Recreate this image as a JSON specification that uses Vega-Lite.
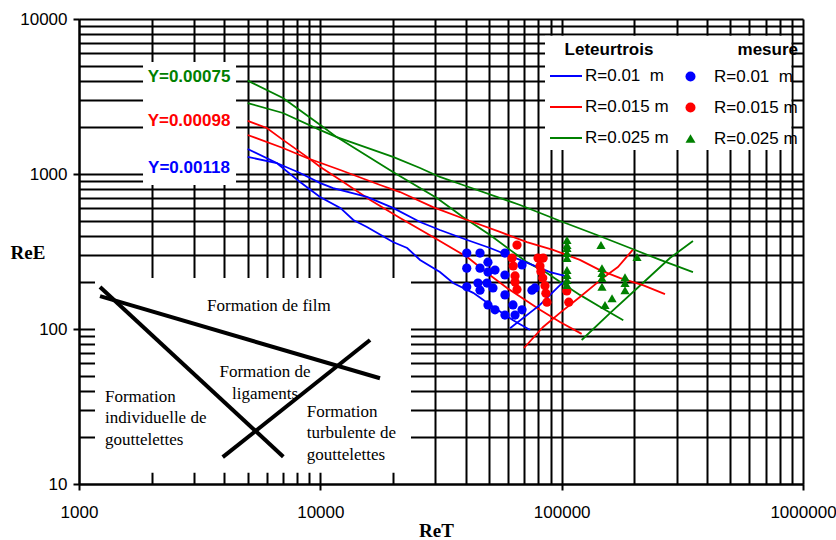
{
  "$schema": "https://vega.github.io/schema/vega-lite/v6.json",
  "width": 724,
  "height": 465,
  "autosize": {"type": "none"},
  "padding": {"left": 79, "top": 19, "right": 33, "bottom": 56},
  "background": "white",
  "config": {"view": {"stroke": null}, "font": "Liberation Sans"},
  "datasets": {
    "boxes": [
      {"x": 1165, "x2": 23750, "y": 213, "y2": 11.8},
      {"x": 1842, "x2": 4474, "y": 5280, "y2": 849},
      {"x": 85300, "x2": 895000, "y": 7800, "y2": 1429}
    ],
    "curves": [
      {"model": "R=0.025 m", "id": "g1", "x": 5000, "y": 4000},
      {"model": "R=0.025 m", "id": "g1", "x": 7000, "y": 3090},
      {"model": "R=0.025 m", "id": "g1", "x": 10000, "y": 2070},
      {"model": "R=0.025 m", "id": "g1", "x": 11700, "y": 1730},
      {"model": "R=0.025 m", "id": "g1", "x": 20000, "y": 1030},
      {"model": "R=0.025 m", "id": "g1", "x": 30400, "y": 700},
      {"model": "R=0.025 m", "id": "g1", "x": 39000, "y": 528},
      {"model": "R=0.025 m", "id": "g1", "x": 50500, "y": 404},
      {"model": "R=0.025 m", "id": "g1", "x": 61100, "y": 324},
      {"model": "R=0.025 m", "id": "g1", "x": 71800, "y": 270},
      {"model": "R=0.025 m", "id": "g1", "x": 86900, "y": 230},
      {"model": "R=0.025 m", "id": "g1", "x": 103000, "y": 192},
      {"model": "R=0.025 m", "id": "g1", "x": 119000, "y": 166},
      {"model": "R=0.025 m", "id": "g1", "x": 144000, "y": 139},
      {"model": "R=0.025 m", "id": "g1", "x": 180000, "y": 114},
      {"model": "R=0.025 m", "id": "g2", "x": 5000, "y": 2870},
      {"model": "R=0.025 m", "id": "g2", "x": 7000, "y": 2475},
      {"model": "R=0.025 m", "id": "g2", "x": 10000, "y": 1920},
      {"model": "R=0.025 m", "id": "g2", "x": 11700, "y": 1730},
      {"model": "R=0.025 m", "id": "g2", "x": 20000, "y": 1290},
      {"model": "R=0.025 m", "id": "g2", "x": 25900, "y": 1094},
      {"model": "R=0.025 m", "id": "g2", "x": 31300, "y": 957},
      {"model": "R=0.025 m", "id": "g2", "x": 39000, "y": 849},
      {"model": "R=0.025 m", "id": "g2", "x": 67200, "y": 631},
      {"model": "R=0.025 m", "id": "g2", "x": 101000, "y": 490},
      {"model": "R=0.025 m", "id": "g2", "x": 140000, "y": 404},
      {"model": "R=0.025 m", "id": "g2", "x": 192000, "y": 333},
      {"model": "R=0.025 m", "id": "g2", "x": 256000, "y": 279},
      {"model": "R=0.025 m", "id": "g2", "x": 350000, "y": 233},
      {"model": "R=0.025 m", "id": "g3", "x": 121000, "y": 84.9},
      {"model": "R=0.025 m", "id": "g3", "x": 159000, "y": 127},
      {"model": "R=0.025 m", "id": "g3", "x": 217000, "y": 198},
      {"model": "R=0.025 m", "id": "g3", "x": 281000, "y": 287},
      {"model": "R=0.025 m", "id": "g3", "x": 350000, "y": 370},
      {"model": "R=0.015 m", "id": "r1", "x": 5000, "y": 2200},
      {"model": "R=0.015 m", "id": "r1", "x": 6000, "y": 1980},
      {"model": "R=0.015 m", "id": "r1", "x": 7000, "y": 1660},
      {"model": "R=0.015 m", "id": "r1", "x": 8800, "y": 1290},
      {"model": "R=0.015 m", "id": "r1", "x": 10000, "y": 1110},
      {"model": "R=0.015 m", "id": "r1", "x": 12100, "y": 914},
      {"model": "R=0.015 m", "id": "r1", "x": 16100, "y": 679},
      {"model": "R=0.015 m", "id": "r1", "x": 21400, "y": 520},
      {"model": "R=0.015 m", "id": "r1", "x": 29300, "y": 392},
      {"model": "R=0.015 m", "id": "r1", "x": 40600, "y": 291},
      {"model": "R=0.015 m", "id": "r1", "x": 49100, "y": 230},
      {"model": "R=0.015 m", "id": "r1", "x": 59400, "y": 184},
      {"model": "R=0.015 m", "id": "r1", "x": 81300, "y": 133},
      {"model": "R=0.015 m", "id": "r1", "x": 98400, "y": 111},
      {"model": "R=0.015 m", "id": "r1", "x": 121000, "y": 93},
      {"model": "R=0.015 m", "id": "r2", "x": 5000, "y": 1785},
      {"model": "R=0.015 m", "id": "r2", "x": 7000, "y": 1471},
      {"model": "R=0.015 m", "id": "r2", "x": 8800, "y": 1268},
      {"model": "R=0.015 m", "id": "r2", "x": 12100, "y": 1061},
      {"model": "R=0.015 m", "id": "r2", "x": 17700, "y": 849},
      {"model": "R=0.015 m", "id": "r2", "x": 21400, "y": 765},
      {"model": "R=0.015 m", "id": "r2", "x": 29300, "y": 612},
      {"model": "R=0.015 m", "id": "r2", "x": 40600, "y": 505},
      {"model": "R=0.015 m", "id": "r2", "x": 55500, "y": 423},
      {"model": "R=0.015 m", "id": "r2", "x": 71800, "y": 364},
      {"model": "R=0.015 m", "id": "r2", "x": 92100, "y": 324},
      {"model": "R=0.015 m", "id": "r2", "x": 119000, "y": 279},
      {"model": "R=0.015 m", "id": "r2", "x": 144000, "y": 240},
      {"model": "R=0.015 m", "id": "r2", "x": 175000, "y": 213},
      {"model": "R=0.015 m", "id": "r2", "x": 217000, "y": 192},
      {"model": "R=0.015 m", "id": "r2", "x": 268000, "y": 168},
      {"model": "R=0.015 m", "id": "r3", "x": 69800, "y": 75.4},
      {"model": "R=0.015 m", "id": "r3", "x": 83800, "y": 103},
      {"model": "R=0.015 m", "id": "r3", "x": 98400, "y": 127},
      {"model": "R=0.015 m", "id": "r3", "x": 119000, "y": 161},
      {"model": "R=0.015 m", "id": "r3", "x": 148000, "y": 213},
      {"model": "R=0.015 m", "id": "r3", "x": 171000, "y": 251},
      {"model": "R=0.015 m", "id": "r3", "x": 197000, "y": 324},
      {"model": "R=0.01 \u00a0m", "id": "b1", "x": 5000, "y": 1449},
      {"model": "R=0.01 \u00a0m", "id": "b1", "x": 6600, "y": 1177},
      {"model": "R=0.01 \u00a0m", "id": "b1", "x": 8240, "y": 887},
      {"model": "R=0.01 \u00a0m", "id": "b1", "x": 9970, "y": 711},
      {"model": "R=0.01 \u00a0m", "id": "b1", "x": 12100, "y": 604},
      {"model": "R=0.01 \u00a0m", "id": "b1", "x": 13700, "y": 505},
      {"model": "R=0.01 \u00a0m", "id": "b1", "x": 15600, "y": 455},
      {"model": "R=0.01 \u00a0m", "id": "b1", "x": 20000, "y": 364},
      {"model": "R=0.01 \u00a0m", "id": "b1", "x": 22900, "y": 333},
      {"model": "R=0.01 \u00a0m", "id": "b1", "x": 25900, "y": 279},
      {"model": "R=0.01 \u00a0m", "id": "b1", "x": 31300, "y": 233},
      {"model": "R=0.01 \u00a0m", "id": "b1", "x": 35500, "y": 198},
      {"model": "R=0.01 \u00a0m", "id": "b1", "x": 43000, "y": 171},
      {"model": "R=0.01 \u00a0m", "id": "b1", "x": 51900, "y": 139},
      {"model": "R=0.01 \u00a0m", "id": "b1", "x": 62900, "y": 114},
      {"model": "R=0.01 \u00a0m", "id": "b1", "x": 74000, "y": 98.6},
      {"model": "R=0.01 \u00a0m", "id": "b2", "x": 5000, "y": 1288},
      {"model": "R=0.01 \u00a0m", "id": "b2", "x": 6600, "y": 1177},
      {"model": "R=0.01 \u00a0m", "id": "b2", "x": 8240, "y": 1015},
      {"model": "R=0.01 \u00a0m", "id": "b2", "x": 10000, "y": 874},
      {"model": "R=0.01 \u00a0m", "id": "b2", "x": 11300, "y": 812},
      {"model": "R=0.01 \u00a0m", "id": "b2", "x": 15600, "y": 711},
      {"model": "R=0.01 \u00a0m", "id": "b2", "x": 20000, "y": 604},
      {"model": "R=0.01 \u00a0m", "id": "b2", "x": 25900, "y": 490},
      {"model": "R=0.01 \u00a0m", "id": "b2", "x": 31300, "y": 435},
      {"model": "R=0.01 \u00a0m", "id": "b2", "x": 40600, "y": 375},
      {"model": "R=0.01 \u00a0m", "id": "b2", "x": 50500, "y": 333},
      {"model": "R=0.01 \u00a0m", "id": "b2", "x": 67200, "y": 279},
      {"model": "R=0.01 \u00a0m", "id": "b2", "x": 89500, "y": 233},
      {"model": "R=0.01 \u00a0m", "id": "b2", "x": 103000, "y": 220},
      {"model": "R=0.01 \u00a0m", "id": "b3", "x": 61100, "y": 101},
      {"model": "R=0.01 \u00a0m", "id": "b3", "x": 81300, "y": 143},
      {"model": "R=0.01 \u00a0m", "id": "b3", "x": 98400, "y": 192},
      {"model": "R=0.01 \u00a0m", "id": "b3", "x": 104000, "y": 204}
    ],
    "regime": [
      {"seg": "film", "x": 1222, "y": 163},
      {"seg": "film", "x": 17670, "y": 48.1},
      {"seg": "individuelle", "x": 1222, "y": 186.7},
      {"seg": "individuelle", "x": 7024, "y": 15.0},
      {"seg": "turbulente", "x": 3940, "y": 14.9},
      {"seg": "turbulente", "x": 16070, "y": 84.9}
    ],
    "mesures": [
      {"mesure": "R=0.01 \u00a0m", "x": 40430, "y": 309},
      {"mesure": "R=0.01 \u00a0m", "x": 45880, "y": 309},
      {"mesure": "R=0.01 \u00a0m", "x": 49500, "y": 270},
      {"mesure": "R=0.01 \u00a0m", "x": 58210, "y": 309},
      {"mesure": "R=0.01 \u00a0m", "x": 40430, "y": 247},
      {"mesure": "R=0.01 \u00a0m", "x": 45880, "y": 247},
      {"mesure": "R=0.01 \u00a0m", "x": 49500, "y": 233},
      {"mesure": "R=0.01 \u00a0m", "x": 52940, "y": 240},
      {"mesure": "R=0.01 \u00a0m", "x": 58210, "y": 223},
      {"mesure": "R=0.01 \u00a0m", "x": 68500, "y": 259},
      {"mesure": "R=0.01 \u00a0m", "x": 40430, "y": 187},
      {"mesure": "R=0.01 \u00a0m", "x": 44990, "y": 198},
      {"mesure": "R=0.01 \u00a0m", "x": 45880, "y": 178},
      {"mesure": "R=0.01 \u00a0m", "x": 49050, "y": 198},
      {"mesure": "R=0.01 \u00a0m", "x": 51930, "y": 184},
      {"mesure": "R=0.01 \u00a0m", "x": 58210, "y": 166},
      {"mesure": "R=0.01 \u00a0m", "x": 49500, "y": 143},
      {"mesure": "R=0.01 \u00a0m", "x": 52940, "y": 133},
      {"mesure": "R=0.01 \u00a0m", "x": 58210, "y": 123},
      {"mesure": "R=0.01 \u00a0m", "x": 62850, "y": 143},
      {"mesure": "R=0.01 \u00a0m", "x": 64100, "y": 123},
      {"mesure": "R=0.01 \u00a0m", "x": 68500, "y": 133},
      {"mesure": "R=0.01 \u00a0m", "x": 75300, "y": 178},
      {"mesure": "R=0.01 \u00a0m", "x": 77520, "y": 184},
      {"mesure": "R=0.015 m", "x": 65300, "y": 348},
      {"mesure": "R=0.015 m", "x": 62300, "y": 287},
      {"mesure": "R=0.015 m", "x": 63000, "y": 255},
      {"mesure": "R=0.015 m", "x": 64100, "y": 220},
      {"mesure": "R=0.015 m", "x": 64100, "y": 201},
      {"mesure": "R=0.015 m", "x": 65300, "y": 180},
      {"mesure": "R=0.015 m", "x": 79800, "y": 287},
      {"mesure": "R=0.015 m", "x": 83800, "y": 287},
      {"mesure": "R=0.015 m", "x": 81300, "y": 255},
      {"mesure": "R=0.015 m", "x": 82000, "y": 235},
      {"mesure": "R=0.015 m", "x": 83500, "y": 213},
      {"mesure": "R=0.015 m", "x": 85300, "y": 190},
      {"mesure": "R=0.015 m", "x": 86000, "y": 170},
      {"mesure": "R=0.015 m", "x": 86900, "y": 149},
      {"mesure": "R=0.015 m", "x": 105000, "y": 176},
      {"mesure": "R=0.015 m", "x": 107000, "y": 149},
      {"mesure": "R=0.025 m", "x": 105200, "y": 375},
      {"mesure": "R=0.025 m", "x": 105200, "y": 348},
      {"mesure": "R=0.025 m", "x": 105200, "y": 333},
      {"mesure": "R=0.025 m", "x": 105200, "y": 309},
      {"mesure": "R=0.025 m", "x": 105200, "y": 287},
      {"mesure": "R=0.025 m", "x": 105200, "y": 240},
      {"mesure": "R=0.025 m", "x": 105200, "y": 223},
      {"mesure": "R=0.025 m", "x": 105200, "y": 207},
      {"mesure": "R=0.025 m", "x": 105200, "y": 192},
      {"mesure": "R=0.025 m", "x": 145500, "y": 348},
      {"mesure": "R=0.025 m", "x": 146900, "y": 247},
      {"mesure": "R=0.025 m", "x": 146900, "y": 230},
      {"mesure": "R=0.025 m", "x": 146900, "y": 213},
      {"mesure": "R=0.025 m", "x": 146900, "y": 187},
      {"mesure": "R=0.025 m", "x": 161700, "y": 158},
      {"mesure": "R=0.025 m", "x": 151200, "y": 143},
      {"mesure": "R=0.025 m", "x": 183000, "y": 216},
      {"mesure": "R=0.025 m", "x": 183000, "y": 198},
      {"mesure": "R=0.025 m", "x": 183000, "y": 178},
      {"mesure": "R=0.025 m", "x": 205200, "y": 291}
    ],
    "labels": [
      {"label": "Y=0.00075", "model": "R=0.025 m", "x": 2856, "y": 4195},
      {"label": "Y=0.00098", "model": "R=0.015 m", "x": 2856, "y": 2198},
      {"label": "Y=0.00118", "model": "R=0.01 \u00a0m", "x": 2856, "y": 1101}
    ],
    "notesLeft": [
      {"text": "Formation de film", "x": 3392, "y": 131.6},
      {"text": "Formation\nindividuelle de\ngouttelettes", "x": 1281, "y": 33.96},
      {"text": "Formation\nturbulente de\ngouttelettes", "x": 8781, "y": 27.2}
    ],
    "notesCenter": [
      {"text": "Formation de\nligaments", "x": 5900, "y": 49.0}
    ]
  },
  "encoding": {
    "x": {
      "field": "x",
      "type": "quantitative",
      "scale": {"type": "log", "domain": [1000, 1000000], "nice": false},
      "axis": {
        "title": "ReT",
        "values": [1000, 2000, 3000, 4000, 5000, 6000, 7000, 8000, 9000, 10000, 20000, 30000, 40000, 50000, 60000, 70000, 80000, 90000, 100000, 200000, 300000, 400000, 500000, 600000, 700000, 800000, 900000, 1000000],
        "grid": true,
        "gridColor": "black",
        "gridWidth": 2,
        "gridOpacity": 1,
        "domainColor": "black",
        "domainWidth": 2,
        "tickColor": "black",
        "tickWidth": 2,
        "tickSize": 6,
        "tickOpacity": {"condition": {"test": "datum.value==1000||datum.value==10000||datum.value==100000||datum.value==1000000", "value": 1}, "value": 0},
        "labelExpr": "(datum.value==1000||datum.value==10000||datum.value==100000||datum.value==1000000) ? format(datum.value,'d') : ''",
        "labelOverlap": false,
        "labelFlush": false,
        "labelFont": "Liberation Sans",
        "labelFontSize": 17,
        "labelColor": "black",
        "labelPadding": 14,
        "titleFont": "Liberation Serif",
        "titleFontSize": 19,
        "titleFontWeight": "bold",
        "titleColor": "black",
        "titleAnchor": "start",
        "titleAlign": "center",
        "titleBaseline": "alphabetic",
        "titleX": 357,
        "titleY": 52
      }
    },
    "y": {
      "field": "y",
      "type": "quantitative",
      "scale": {"type": "log", "domain": [10, 10000], "nice": false},
      "axis": {
        "title": "ReE",
        "values": [10, 20, 30, 40, 50, 60, 70, 80, 90, 100, 200, 300, 400, 500, 600, 700, 800, 900, 1000, 2000, 3000, 4000, 5000, 6000, 7000, 8000, 9000, 10000],
        "grid": true,
        "gridColor": "black",
        "gridWidth": 2,
        "gridOpacity": 1,
        "domainColor": "black",
        "domainWidth": 2,
        "tickColor": "black",
        "tickWidth": 2,
        "tickSize": 6,
        "tickOpacity": {"condition": {"test": "datum.value==10||datum.value==100||datum.value==1000||datum.value==10000", "value": 1}, "value": 0},
        "labelExpr": "(datum.value==10||datum.value==100||datum.value==1000||datum.value==10000) ? format(datum.value,'d') : ''",
        "labelOverlap": false,
        "labelFlush": false,
        "labelFont": "Liberation Sans",
        "labelFontSize": 17,
        "labelColor": "black",
        "labelPadding": 6,
        "titleFont": "Liberation Serif",
        "titleFontSize": 19,
        "titleFontWeight": "bold",
        "titleColor": "black",
        "titleAngle": 0,
        "titleAnchor": "start",
        "titleAlign": "left",
        "titleBaseline": "middle",
        "titleX": -69,
        "titleY": 233
      }
    }
  },
  "layer": [
    {
      "data": {"name": "boxes"},
      "mark": {"type": "rect", "color": "white", "strokeWidth": 0},
      "encoding": {"x2": {"field": "x2"}, "y2": {"field": "y2"}}
    },
    {
      "data": {"name": "curves"},
      "mark": {"type": "line", "strokeWidth": 1.8},
      "encoding": {
        "detail": {"field": "id", "type": "nominal"},
        "color": {
          "field": "model",
          "type": "nominal",
          "scale": {"range": ["#0000ff", "#ff0000", "#008000"]},
          "legend": {
            "title": "Leteurtrois",
            "orient": "none",
            "legendX": 470,
            "legendY": 23,
            "padding": 0,
            "symbolType": "stroke",
            "symbolSize": 1024,
            "symbolStrokeWidth": 2,
            "labelFont": "Liberation Sans",
            "labelFontSize": 17,
            "labelColor": "black",
            "labelOffset": 2,
            "titleFont": "Liberation Sans",
            "titleFontSize": 17,
            "titleFontWeight": "bold",
            "titleColor": "black",
            "titleAnchor": "middle",
            "titlePadding": 0,
            "rowPadding": 6
          }
        }
      }
    },
    {
      "data": {"name": "regime"},
      "mark": {"type": "line", "color": "black", "strokeWidth": 4},
      "encoding": {"detail": {"field": "seg", "type": "nominal"}}
    },
    {
      "data": {"name": "mesures"},
      "mark": {"type": "point", "filled": true, "size": 85, "opacity": 1, "strokeWidth": 0},
      "encoding": {
        "fill": {
          "field": "mesure",
          "type": "nominal",
          "scale": {"range": ["#0000ff", "#ff0000", "#008000"]},
          "legend": {
            "title": "mesure",
            "orient": "none",
            "legendX": 603,
            "legendY": 23,
            "padding": 0,
            "labelFont": "Liberation Sans",
            "labelFontSize": 17,
            "labelColor": "black",
            "labelOffset": 15,
            "titleFont": "Liberation Sans",
            "titleFontSize": 17,
            "titleFontWeight": "bold",
            "titleColor": "black",
            "titleAnchor": "end",
            "titlePadding": 9,
            "rowPadding": 13
          }
        },
        "shape": {
          "field": "mesure",
          "type": "nominal",
          "scale": {"range": ["circle", "circle", "triangle-up"]},
          "legend": {
            "title": "mesure",
            "orient": "none",
            "legendX": 603,
            "legendY": 23,
            "padding": 0,
            "labelFont": "Liberation Sans",
            "labelFontSize": 17,
            "labelColor": "black",
            "labelOffset": 15,
            "titleFont": "Liberation Sans",
            "titleFontSize": 17,
            "titleFontWeight": "bold",
            "titleColor": "black",
            "titleAnchor": "end",
            "titlePadding": 9,
            "rowPadding": 13
          }
        }
      }
    },
    {
      "data": {"name": "labels"},
      "mark": {"type": "text", "font": "Liberation Sans", "fontSize": 17, "fontWeight": "bold", "align": "center", "baseline": "middle"},
      "encoding": {
        "text": {"field": "label", "type": "nominal"},
        "color": {"field": "model", "type": "nominal"}
      }
    },
    {
      "data": {"name": "notesLeft"},
      "mark": {"type": "text", "font": "Liberation Serif", "fontSize": 17, "color": "black", "align": "left", "baseline": "alphabetic", "lineBreak": "\n", "lineHeight": 21.5},
      "encoding": {"text": {"field": "text", "type": "nominal"}}
    },
    {
      "data": {"name": "notesCenter"},
      "mark": {"type": "text", "font": "Liberation Serif", "fontSize": 17, "color": "black", "align": "center", "baseline": "alphabetic", "lineBreak": "\n", "lineHeight": 21.5},
      "encoding": {"text": {"field": "text", "type": "nominal"}}
    }
  ]
}
